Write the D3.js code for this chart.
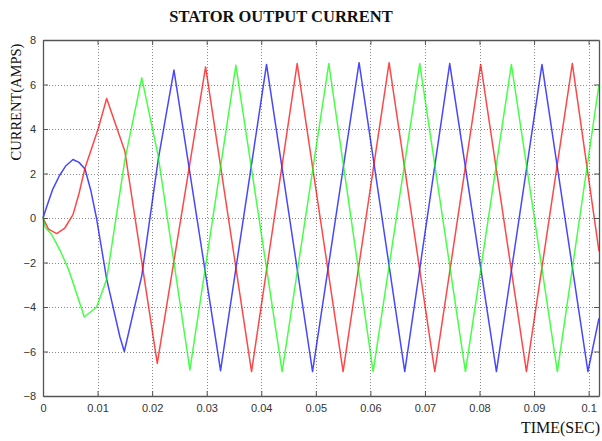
<!DOCTYPE html>
<html>
<head>
<meta charset="utf-8">
<script src="https://cdn.jsdelivr.net/npm/d3@7"></script>
<style>
  body { margin: 0; background: #fff; }
  .tick text { font-family: "Liberation Sans", Arial, sans-serif; font-size: 11px; fill: #333; }
</style>
</head>
<body>
<div id="area"></div>
<script>
// values: [time (s), current (A)]
var bluePts = [[0,0],[0.0008,0.6],[0.0018,1.3],[0.003,1.9],[0.0042,2.35],[0.0055,2.63],[0.0066,2.5],[0.0077,2.2],
  [0.0088,1.2],[0.0098,0],[0.01167,-2.75],[0.0141,-5.35],[0.0149,-6.0],[0.0181,-2.6],[0.0211,2.6],[0.024,6.65],
  [0.03254,-6.86],[0.04097,6.9],[0.0494,-6.9],[0.05793,6.98],[0.0663,-6.9],[0.07454,6.94],[0.0831,-6.9],
  [0.09145,6.9],[0.09987,-6.9],[0.1019,-4.5]];
var redPts = [[0,0],[0.001,-0.5],[0.0025,-0.7],[0.004,-0.45],[0.0055,0.15],[0.0066,1.1],[0.0077,2.25],[0.0101,4.0],
  [0.01167,5.37],[0.015,3.0],[0.02094,-6.53],[0.0298,6.79],[0.03822,-6.9],[0.04658,6.94],[0.055,-6.9],[0.06343,6.98],
  [0.0718,-6.9],[0.08022,6.9],[0.0886,-6.9],[0.09701,6.94],[0.1019,-1.5]];
var greenPts = [[0,0],[0.0004,-0.4],[0.0016,-0.75],[0.0031,-1.44],[0.0045,-2.2],[0.00525,-2.72],[0.00757,-4.45],
  [0.00983,-4.0],[0.01167,-2.75],[0.015,2.6],[0.0181,6.3],[0.0211,2.8],[0.02692,-6.83],[0.03535,6.86],[0.04383,-6.9],
  [0.05238,6.94],[0.0605,-6.9],[0.06905,6.94],[0.07742,-6.9],[0.08584,6.9],[0.09427,-6.9],[0.1019,6.0]];

var xTicks = [0,0.01,0.02,0.03,0.04,0.05,0.06,0.07,0.08,0.09,0.1];
var yTicks = [-8,-6,-4,-2,0,2,4,6,8];
var xMax = 0.1019;

var width = 602, height = 441;
var plot = {left: 43, right: 599, top: 40, bottom: 396};

var svg = d3.select('#area').append('svg')
    .attr('width', width)
    .attr('height', height);

svg.append('rect').attr('width', width).attr('height', height).attr('fill', '#fff');

var x = d3.scaleLinear().domain([0, xMax]).range([plot.left, plot.right]);
var y = d3.scaleLinear().domain([-8, 8]).range([plot.bottom, plot.top]);

// dotted grid
var grid = svg.append('g').attr('stroke', '#8a8a8a').attr('stroke-width', 1).attr('stroke-dasharray', '1,2');
grid.selectAll('.vg').data(xTicks.filter(function(d) { return d > 0; }))
  .enter().append('line')
    .attr('x1', function(d) { return Math.round(x(d)) + 0.5; })
    .attr('x2', function(d) { return Math.round(x(d)) + 0.5; })
    .attr('y1', plot.top).attr('y2', plot.bottom);
grid.selectAll('.hg').data(yTicks.filter(function(d) { return d > -8 && d < 8; }))
  .enter().append('line')
    .attr('y1', function(d) { return Math.round(y(d)) + 0.5; })
    .attr('y2', function(d) { return Math.round(y(d)) + 0.5; })
    .attr('x1', plot.left).attr('x2', plot.right);

// curves
var line = d3.line()
  .x(function(d) { return x(d[0]); })
  .y(function(d) { return y(d[1]); });

var series = [
  {pts: bluePts, color: '#0000ff'},
  {pts: redPts, color: '#ff0000'},
  {pts: greenPts, color: '#00ff00'}
];
svg.append('g').selectAll('path').data(series)
  .enter().append('path')
    .attr('d', function(d) { return line(d.pts); })
    .attr('fill', 'none')
    .attr('stroke', function(d) { return d.color; })
    .attr('stroke-opacity', 0.72)
    .attr('stroke-width', 1.5)
    .attr('stroke-linejoin', 'round');

// axes, ticks inward like matlab
var fmt = d3.format('~g');
var xAxis = d3.axisBottom(x).tickValues(xTicks).tickFormat(fmt).tickSizeInner(-5).tickSizeOuter(0).tickPadding(8);
var xTop = d3.axisTop(x).tickValues(xTicks).tickFormat('').tickSizeInner(-5).tickSizeOuter(0);
var yAxis = d3.axisLeft(y).tickValues(yTicks).tickFormat(fmt).tickSizeInner(-5).tickSizeOuter(0).tickPadding(7);
var yRight = d3.axisRight(y).tickValues(yTicks).tickFormat('').tickSizeInner(-5).tickSizeOuter(0);

var axes = [
  svg.append('g').attr('transform', 'translate(0,' + plot.bottom + ')').call(xAxis),
  svg.append('g').attr('transform', 'translate(0,' + plot.top + ')').call(xTop),
  svg.append('g').attr('transform', 'translate(' + plot.left + ',0)').call(yAxis),
  svg.append('g').attr('transform', 'translate(' + plot.right + ',0)').call(yRight)
];
axes.forEach(function(a) {
  a.select('.domain').attr('stroke', '#555').attr('stroke-width', 1.3);
  a.selectAll('.tick line').attr('stroke', '#555');
});

// labels
svg.append('text')
  .attr('x', 281).attr('y', 22)
  .attr('text-anchor', 'middle')
  .style('font-family', '"Liberation Serif", "Times New Roman", serif')
  .style('font-weight', 'bold')
  .style('font-size', '16.5px')
  .attr('fill', '#111')
  .text('STATOR OUTPUT CURRENT');

svg.append('text')
  .attr('transform', 'translate(21,102) rotate(-90)')
  .attr('text-anchor', 'middle')
  .style('font-family', '"Liberation Serif", "Times New Roman", serif')
  .style('font-size', '14.5px')
  .attr('fill', '#111')
  .text('CURRENT(AMPS)');

svg.append('text')
  .attr('x', 600).attr('y', 433)
  .attr('text-anchor', 'end')
  .style('font-family', '"Liberation Serif", "Times New Roman", serif')
  .style('font-size', '16px')
  .attr('fill', '#111')
  .text('TIME(SEC)');
</script>
</body>
</html>
